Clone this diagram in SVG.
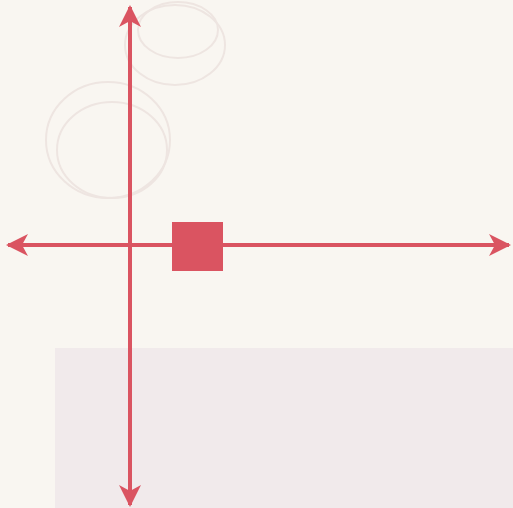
<svg xmlns="http://www.w3.org/2000/svg" width="513" height="508" viewBox="0 0 513 508">
  <style>
    .axis { stroke: #da5461; stroke-width: 4; fill: none; }
    .sketch { stroke: #eee5e1; stroke-width: 2; fill: none; }
  </style>
  <defs>
    <marker id="arrow" viewBox="0 0 22 22" refX="20" refY="11" markerWidth="22" markerHeight="22" markerUnits="userSpaceOnUse" orient="auto-start-reverse">
      <path d="M0,0 L22,11 L0,22 L6,11 Z" fill="#da5461"/>
    </marker>
  </defs>
  <rect width="513" height="508" fill="#f9f6f1"/>
  <rect x="55" y="348" width="458" height="160" fill="#f1eaeb"/>
  <g id="sketch">
    <ellipse class="sketch" cx="108" cy="140" rx="62" ry="58"/>
    <ellipse class="sketch" cx="112" cy="150" rx="55" ry="48"/>
    <ellipse class="sketch" cx="175" cy="45" rx="50" ry="40"/>
    <ellipse class="sketch" cx="178" cy="30" rx="40" ry="28"/>
  </g>
  <g id="connectors">
    <line class="axis" x1="130" y1="505" x2="130" y2="7" marker-start="url(#arrow)" marker-end="url(#arrow)"/>
    <line class="axis" x1="8" y1="245" x2="509" y2="245" marker-start="url(#arrow)" marker-end="url(#arrow)"/>
  </g>
  <g id="square">
    <rect x="172" y="222" width="51" height="49" fill="#da5461"/>
  </g>
</svg>
